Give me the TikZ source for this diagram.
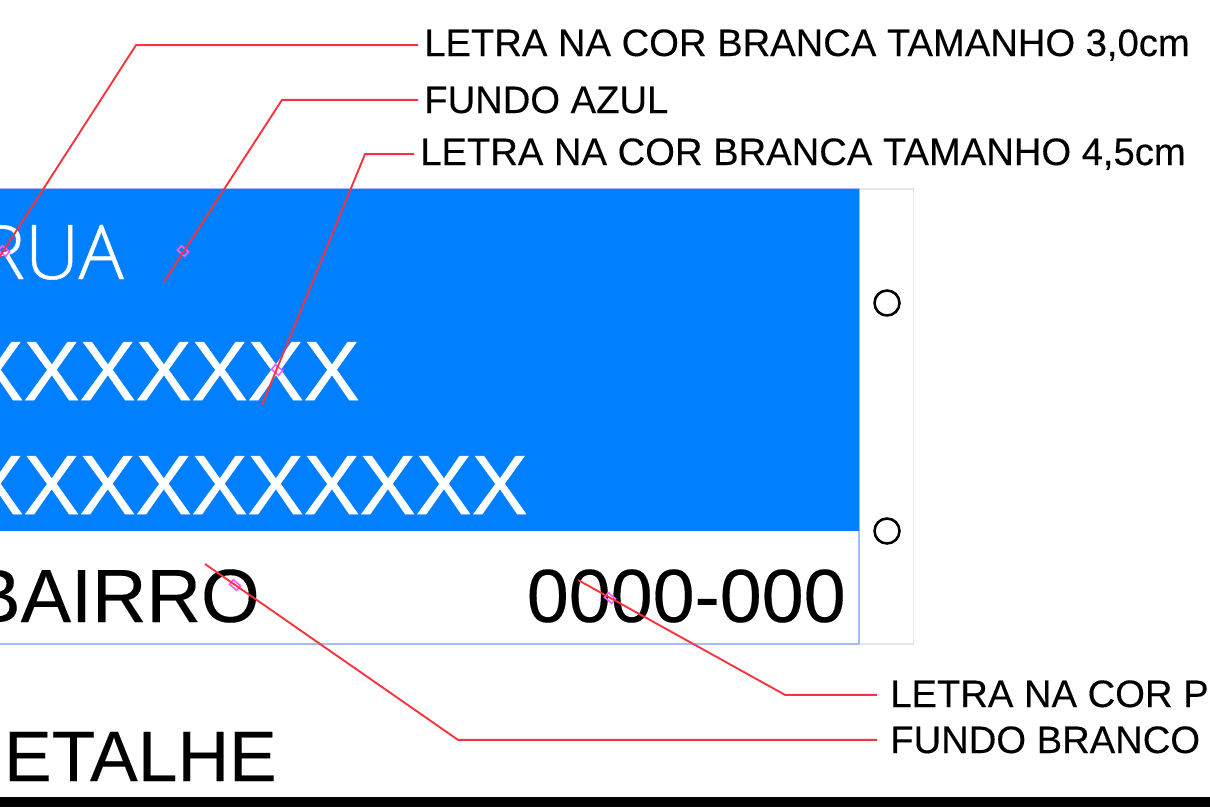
\documentclass[tikz,border=0pt]{standalone}
\usepackage{fontspec}
\setmainfont[FakeBold=.2]{Liberation Sans}
\newfontfamily\thinfont[FakeBold=.6]{Open Sans Light}
\newfontfamily\heavyfont[FakeBold=.6]{Liberation Sans}
\tikzset{
	leader/.style={draw=leaderred,line width=1.4pt},
	mark box/.style={draw=markpink,line width=1.2pt,rectangle,rotate=-40,minimum width=7pt,minimum height=4.5pt,inner sep=0pt},
	note/.style={anchor=base west,inner sep=0pt,font=\fontsize{28.65pt}{28.65pt}\selectfont},
	plate/.style={anchor=base east,inner sep=0pt,text=white,font=\heavyfont\fontsize{63pt}{63pt}\selectfont},
	dark/.style={anchor=base east,inner sep=0pt,text=black},
}
\definecolor{plateblue}{RGB}{0,127,255}
\definecolor{leaderred}{RGB}{250,50,60}
\definecolor{markpink}{RGB}{255,90,255}
\definecolor{edgeblue}{RGB}{165,190,250}
\definecolor{edgegrey}{RGB}{230,230,230}
\begin{document}
\begin{tikzpicture}[x=.75pt,y=-.75pt]
		\useasboundingbox (0,0) rectangle (1210,810);
		\clip (0,0) rectangle (1210,810);
		\fill [white] (0,0) rectangle (1210,810);
		% plate
		\draw [edgegrey,line width=.9pt] (859,189) rectangle (913.5,644);
		\draw [edgeblue,line width=.9pt] (-5,644) -- (859,644) -- (859,189) -- (-5,189);
		\fill [plateblue] (-5,189) rectangle (859,531);
		\draw [line width=1.9pt] (887,303) circle (12.5) (887,531) circle (12.5);
		\fill (-5,797) rectangle (1210,807);
		% plate text
		\node [plate,font=\thinfont\fontsize{56.5pt}{56.5pt}\selectfont] (rua) at (124,279) {RUA};
		\node [plate] (first) at (360,400) {XXXXXXX};
		\node [plate] (second) at (528,514) {XXXXXXXXXX};
		\node [dark,font=\fontsize{56.6pt}{56.6pt}\selectfont] (bairro) at (260,622) {BAIRRO};
		\node [dark,font=\fontsize{56.6pt}{56.6pt}\selectfont] (cep) at (846,622) {0000-000};
		\node [dark,font=\fontsize{53.6pt}{53.6pt}\selectfont] (detalhe) at (277,781) {ETALHE};
		% notes
		\node [note] (noteA) at (424,56) {LETRA NA COR BRANCA TAMANHO 3,0cm};
		\node [note] (noteB) at (424,113) {FUNDO AZUL};
		\node [note] (noteC) at (420,165) {LETRA NA COR BRANCA TAMANHO 4,5cm};
		\node [note] (noteD) at (890,707) {LETRA NA COR P};
		\node [note] (noteE) at (890,753) {FUNDO BRANCO};
		% markers
		\node [mark box] (markA) at (4,251) {};
		\node [mark box] (markB) at (183,251) {};
		\node [mark box] (markC) at (277,370) {};
		\node [mark box] (markD) at (235,585) {};
		\node [mark box] (markE) at (610,598) {};
		% leaders
		\coordinate (endA) at (-5,264);
		\coordinate (endB) at (164,282);
		\coordinate (endC) at (262,405);
		\coordinate (endD) at (205,564);
		\coordinate (endE) at (578,580);
		\draw [leader] (noteA.west) ++(-6,0) -- ++(-282,0) -- (endA);
		\draw [leader] (noteB.west) ++(-6,0) -- ++(-136,0) -- (endB);
		\draw [leader] (noteC.west) ++(-6,0) -- ++(-49,0) -- (endC);
		\draw [leader] (noteD.west) ++(-13,1) -- ++(-92,0) -- (endE);
		\draw [leader] (noteE.west) ++(-13,0) -- ++(-419,0) -- (endD);
		\end{tikzpicture}
\end{document}
